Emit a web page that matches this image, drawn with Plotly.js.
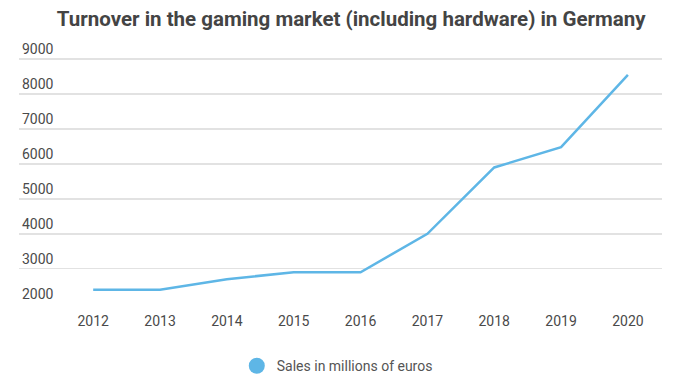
<!DOCTYPE html>
<html>
<head>
<meta charset="utf-8">
<script src="https://cdn.plot.ly/plotly-3.0.1.min.js"></script>
<style>html,body{margin:0;padding:0;background:#fff;}#chart{width:678px;height:381px;}</style>
</head>
<body>
<div id="chart"></div>
<script>
const years = ["2012","2013","2014","2015","2016","2017","2018","2019","2020"];
const sales = [2400, 2400, 2700, 2900, 2900, 4000, 5900, 6480, 8550];
const yTicks = [2000, 3000, 4000, 5000, 6000, 7000, 8000, 9000];
const seriesName = "Sales in millions of euros";
const lineColor = "#5eb6e6";

const traces = [
  {x: years, y: sales, type: "scatter", mode: "lines", line: {color: lineColor, width: 2.5}, showlegend: false, hoverinfo: "x+y"},
  {x: [null], y: [null], type: "scatter", mode: "markers", name: seriesName, marker: {color: lineColor, size: 18, symbol: "circle"}, showlegend: true}
];

const layout = {
  width: 678, height: 381,
  margin: {l: 19, r: 16, t: 40, b: 77, pad: 0, autoexpand: false},
  paper_bgcolor: "#fff", plot_bgcolor: "#fff",
  font: {family: "Roboto, sans-serif", color: "#555", size: 14},
  title: {text: "<b>Turnover in the gaming market (including hardware) in Germany</b>", x: 0.518, xanchor: "center", y: 0.95, yanchor: "middle", yref: "container", font: {family: "Roboto, sans-serif", size: 20.5, color: "#444"}, automargin: false},
  xaxis: {type: "category", range: [-1.11, 8.51], showgrid: false, zeroline: false, showline: false, ticks: "", ticklabelstandoff: 7, tickfont: {size: 14, color: "#4a4a4a"}, fixedrange: true, automargin: false},
  yaxis: {range: [1990, 9550], tickvals: yTicks, ticktext: yTicks.map(String), showgrid: true, gridcolor: "#e2e2e2", gridwidth: 1.5, zeroline: false, showline: false, ticks: "", ticklabelposition: "inside", ticklabelshift: -10, ticklabelstandoff: 0, tickfont: {size: 14, color: "#4a4a4a"}, fixedrange: true, automargin: false},
  legend: {orientation: "h", x: 0.495, xanchor: "center", yref: "container", y: 0.039, yanchor: "middle", font: {size: 14, color: "#555"}, itemsizing: "trace"},
  showlegend: true
};

Plotly.newPlot("chart", traces, layout, {displayModeBar: false, staticPlot: true});
</script>
</body>
</html>
